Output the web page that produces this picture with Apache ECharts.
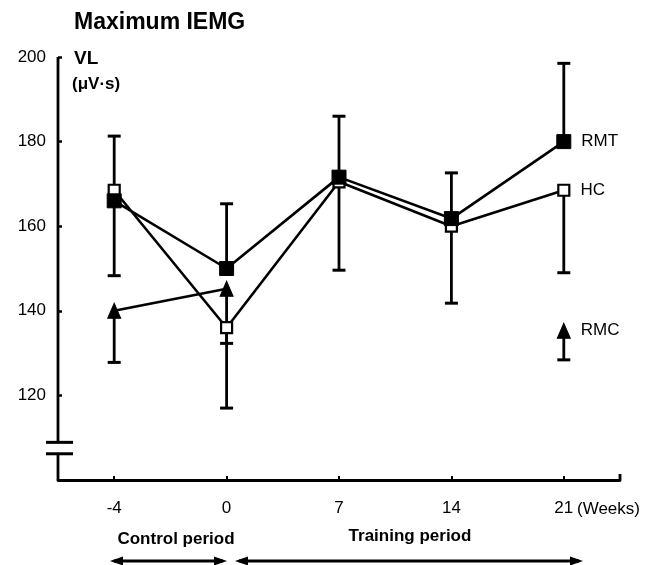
<!DOCTYPE html>
<html>
<head>
<meta charset="utf-8">
<script src="https://cdn.jsdelivr.net/npm/echarts@6/dist/echarts.min.js"></script>
<style>html,body{margin:0;padding:0;background:#fff;}#c{width:657px;height:565px;}</style>
</head>
<body>
<div id="c"></div>
<script>
// ---- data ----
var weeks = ['-4', '0', '7', '14', '21'];
var rmt = [166, 150, 171.6, 161.8, 180];
var hc = [168.5, 136, 170.5, 160, 168.5];
var rmc = [140, 145.2, null, null, 135.3];
var rmtUpper = [181.3, 165.3, 186, 172.6, 198.5];
var hcLower = [148.3, 117, 149.6, 141.8, 149];
var rmcLower = [127.8, 132.3, null, null, 128.4];
var yTicks = [100, 120, 140, 160, 180, 200];
var axisBreak = [106.2, 108.9];

var FONT = '"Liberation Sans", Arial, sans-serif';

function barData(center, end) {
  var out = [];
  for (var i = 0; i < center.length; i++) {
    if (center[i] != null && end[i] != null) out.push([i, center[i], end[i]]);
  }
  return out;
}

function renderBar(params, api) {
  var p0 = api.coord([api.value(0), api.value(1)]);
  var p1 = api.coord([api.value(0), api.value(2)]);
  var cw = 6.5;
  var st = { stroke: '#000', lineWidth: 2.8 };
  return {
    type: 'group',
    children: [
      { type: 'line', shape: { x1: p0[0], y1: p0[1], x2: p1[0], y2: p1[1] }, style: st },
      { type: 'line', shape: { x1: p1[0] - cw, y1: p1[1], x2: p1[0] + cw, y2: p1[1] }, style: { stroke: '#000', lineWidth: 3 } }
    ]
  };
}

function renderAxis(params, api) {
  var cs = params.coordSys;
  var x0 = cs.x;
  var yTop = api.coord([0, yTicks[yTicks.length - 1]])[1];
  var yBot = api.coord([0, yTicks[0]])[1];
  var yb1 = api.coord([0, axisBreak[1]])[1];
  var yb0 = api.coord([0, axisBreak[0]])[1];
  var st = { stroke: '#000', lineWidth: 2.8 };
  var xr = cs.x + cs.width;
  return {
    type: 'group',
    children: [
      { type: 'line', shape: { x1: x0, y1: yTop, x2: x0, y2: yb1 }, style: st },
      { type: 'line', shape: { x1: x0 - 12, y1: yb1, x2: x0 + 15, y2: yb1 }, style: { stroke: '#000', lineWidth: 3 } },
      { type: 'line', shape: { x1: x0 - 12, y1: yb0, x2: x0 + 15, y2: yb0 }, style: { stroke: '#000', lineWidth: 3 } },
      { type: 'line', shape: { x1: x0, y1: yb0, x2: x0, y2: yBot }, style: st },
      { type: 'line', shape: { x1: xr, y1: yBot, x2: xr, y2: yBot - 6 }, style: st }
    ]
  };
}

function lineData(vals, name) {
  var last = vals.length - 1;
  return vals.map(function (v, i) {
    if (i === last && v != null) {
      return {
        value: v,
        label: {
          show: true, position: 'right', distance: 10, formatter: name,
          color: '#000', fontFamily: FONT, fontSize: 17
        }
      };
    }
    return v;
  });
}

function arrow(x1, x2, y) {
  var L = 13, W = 4.5;
  return [
    { type: 'line', shape: { x1: x1 + 4, y1: y, x2: x2 - 4, y2: y }, style: { stroke: '#000', lineWidth: 2.8 } },
    { type: 'polygon', shape: { points: [[x1, y], [x1 + L, y - W], [x1 + L, y + W]] }, style: { fill: '#000' } },
    { type: 'polygon', shape: { points: [[x2, y], [x2 - L, y - W], [x2 - L, y + W]] }, style: { fill: '#000' } }
  ];
}

var chart = echarts.init(document.getElementById('c'), null, { renderer: 'canvas' });

var graphics = [
  { type: 'text', left: 74, top: 11, style: { text: 'Maximum IEMG', font: 'bold 23px ' + FONT, fill: '#000' } },
  { type: 'text', left: 74, top: 49, style: { text: 'VL', font: 'bold 19px ' + FONT, fill: '#000' } },
  { type: 'text', left: 72, top: 76, style: { text: '(μV·s)', font: 'bold 17px ' + FONT, fill: '#000' } },
  { type: 'text', left: 577, top: 501, style: { text: '(Weeks)', font: '17px ' + FONT, fill: '#000' } },
  { type: 'text', x: 176, y: 539, style: { text: 'Control period', font: 'bold 17px ' + FONT, fill: '#000', align: 'center', verticalAlign: 'middle' } },
  { type: 'text', x: 410, y: 536, style: { text: 'Training period', font: 'bold 17px ' + FONT, fill: '#000', align: 'center', verticalAlign: 'middle' } }
].concat(arrow(110, 227, 561)).concat(arrow(235, 583, 561));

var option = {
  backgroundColor: '#fff',
  animation: false,
  grid: { left: 58, right: 37, top: 57, bottom: 85, containLabel: false },
  xAxis: {
    type: 'category',
    data: weeks,
    boundaryGap: true,
    axisLine: { show: true, lineStyle: { color: '#000', width: 2.8 } },
    axisTick: { show: true, inside: true, alignWithLabel: true, length: 4, lineStyle: { color: '#000', width: 2 } },
    axisLabel: { color: '#000', fontFamily: FONT, fontSize: 17, margin: 20 },
    splitLine: { show: false }
  },
  yAxis: {
    type: 'value',
    min: 100, max: 200, interval: 20,
    axisLine: { show: false },
    axisTick: { show: true, inside: true, length: 4, lineStyle: { color: '#000', width: 2.5 } },
    axisLabel: {
      color: '#000', fontFamily: FONT, fontSize: 17, margin: 12,
      formatter: function (v) { return v === yTicks[0] ? '' : String(v); }
    },
    splitLine: { show: false }
  },
  graphic: graphics,
  series: [
    { type: 'custom', name: 'axis', renderItem: renderAxis, data: [[0, 100]], z: 1, silent: true },
    { type: 'custom', name: 'RMT err', renderItem: renderBar, data: barData(rmt, rmtUpper), z: 2 },
    { type: 'custom', name: 'HC err', renderItem: renderBar, data: barData(hc, hcLower), z: 2 },
    { type: 'custom', name: 'RMC err', renderItem: renderBar, data: barData(rmc, rmcLower), z: 2 },
    {
      type: 'line', name: 'RMC', data: lineData(rmc, 'RMC'), connectNulls: false,
      symbol: 'triangle', symbolSize: [13, 15], showSymbol: true,
      lineStyle: { color: '#000', width: 2.6 },
      itemStyle: { color: '#000', borderColor: '#000' }, z: 3
    },
    {
      type: 'line', name: 'HC', data: lineData(hc, 'HC'),
      symbol: 'rect', symbolSize: 11,
      lineStyle: { color: '#000', width: 2.6 },
      itemStyle: { color: '#fff', borderColor: '#000', borderWidth: 2.2 }, z: 4
    },
    {
      type: 'line', name: 'RMT', data: lineData(rmt, 'RMT'),
      symbol: 'rect', symbolSize: 14,
      lineStyle: { color: '#000', width: 2.6 },
      itemStyle: { color: '#000', borderColor: '#000' }, z: 5
    }
  ]
};
chart.setOption(option);
</script>
</body>
</html>
